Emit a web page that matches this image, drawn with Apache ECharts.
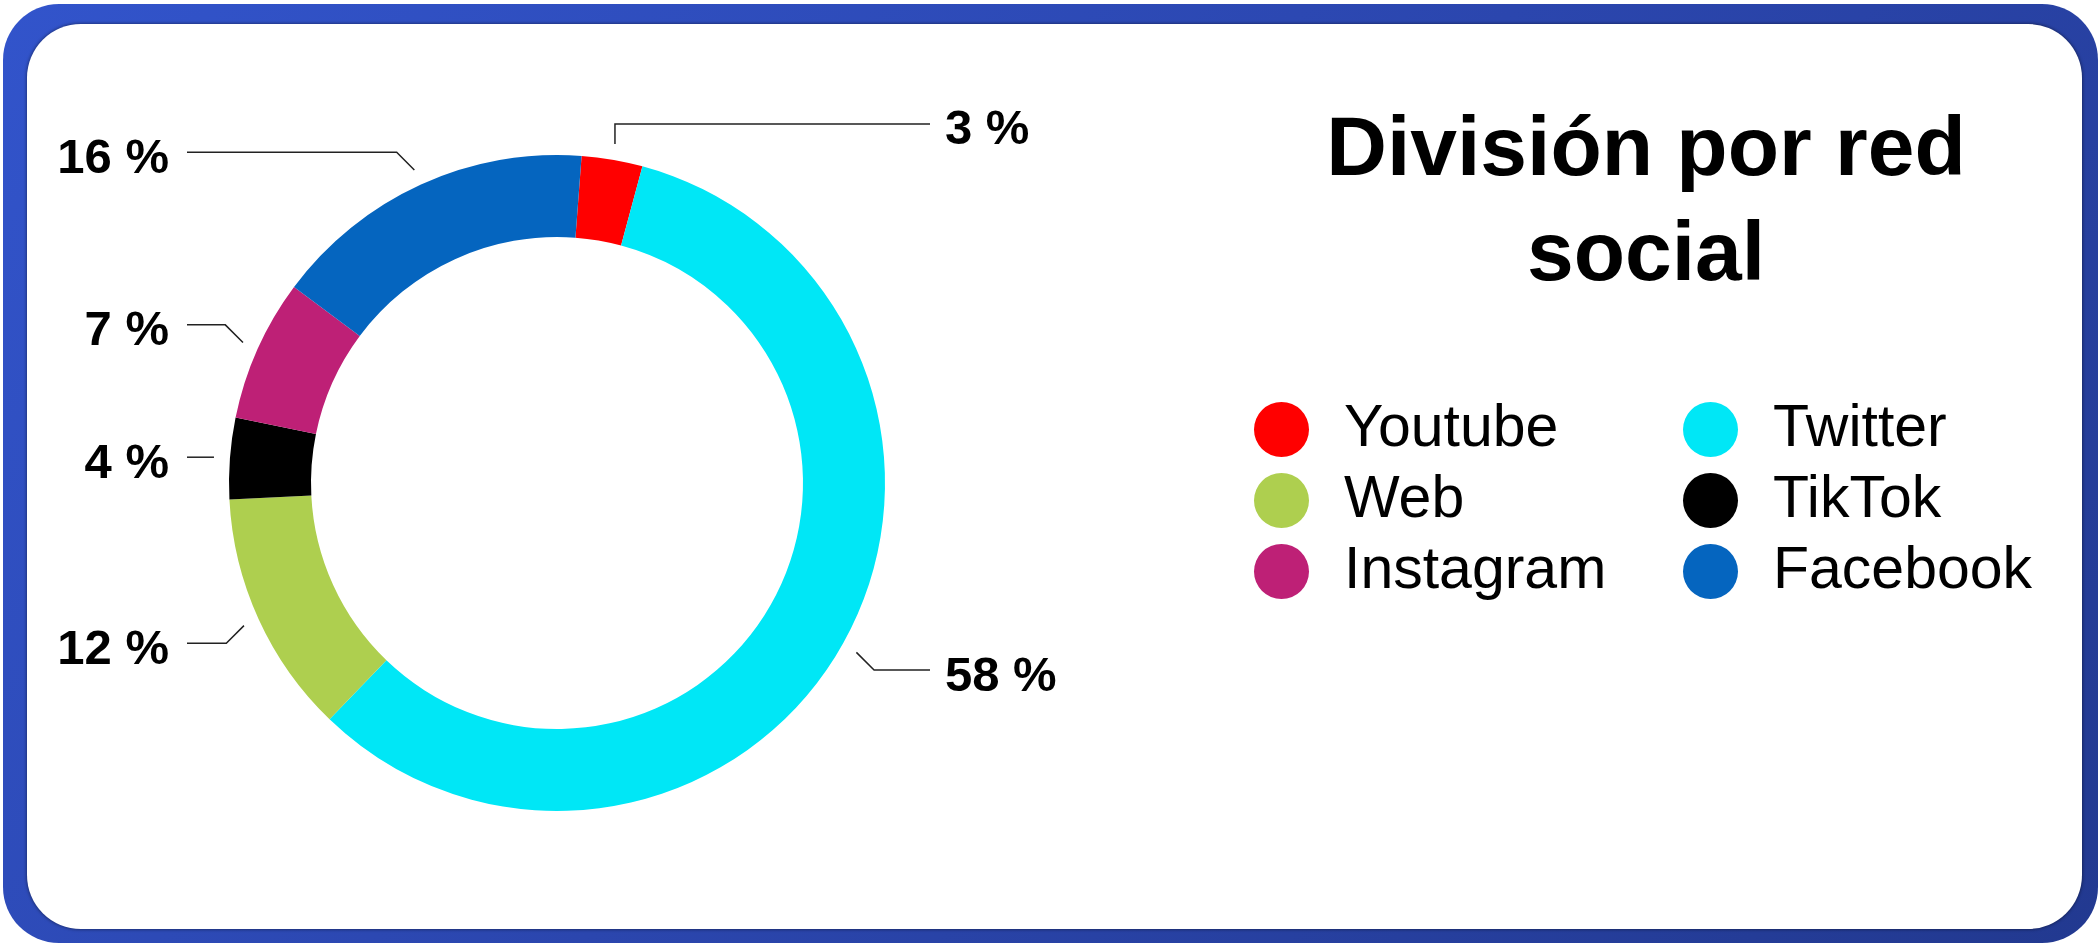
<!DOCTYPE html>
<html>
<head>
<meta charset="utf-8">
<script src="https://cdn.jsdelivr.net/npm/echarts@6/dist/echarts.min.js"></script>
<style>
    html, body { margin: 0; padding: 0; background: #fff; }
    #frame {
        position: absolute; left: 3px; top: 4px; width: 2095px; height: 939px;
        border-radius: 56px;
        background: linear-gradient(135deg, #3254cb 0%, #2b46ae 50%, #223990 100%);
    }
    #panel {
        position: absolute; left: 24px; top: 20px; width: 2055px; height: 905px;
        border-radius: 54px; background: #fff;
        box-shadow: 0 0 3px 1px rgba(0, 0, 0, 0.35);
    }
    #chart-1 { position: absolute; left: 0; top: 0; width: 2100px; height: 944px; }
</style>
</head>
<body>
<div id="frame"><div id="panel"></div></div>
<div id="chart-1"></div>
<script>
// datos del gráfico
const redes = ['Youtube', 'Twitter', 'Web', 'TikTok', 'Instagram', 'Facebook']
const porcentajes = [3, 58, 12, 4, 7, 16]
const leyendaIzq = ['Youtube', 'Web', 'Instagram']
const leyendaDer = ['Twitter', 'TikTok', 'Facebook']

const colores = ['#ff0000', '#00e7f6', '#aecf4f', '#000000', '#be2076', '#0565bf']
const centro = [557, 483]
const font = "'Liberation Sans', Arial, Helvetica, sans-serif"

const myChart = echarts.init(document.getElementById('chart-1'))

// leader lines like the original: gap from the ring, first segment snapped
// to 45 degree steps, then horizontal to a common column
const labelLayout = function (params) {
    const pts = params.labelLinePoints
    if (!pts) return {}
    const isLeft = pts[2][0] < pts[1][0]
    const dx = pts[1][0] - pts[0][0]
    const dy = pts[1][1] - pts[0][1]
    const len = Math.sqrt(dx * dx + dy * dy) || 1
    const gap = 16
    const start = [pts[0][0] + dx / len * gap, pts[0][1] + dy / len * gap]
    const snap = Math.round(Math.atan2(dy, dx) / (Math.PI / 4)) * (Math.PI / 4)
    const step = Math.abs(Math.cos(snap)) > 0.9 ? 0 : (Math.abs(Math.sin(snap)) > 0.9 ? 20 : 25)
    const elbow = [start[0] + Math.cos(snap) * step, start[1] + Math.sin(snap) * step]
    const endX = isLeft ? centro[0] - 370 : centro[0] + 373
    const y = elbow[1]
    return {
        x: isLeft ? endX - 18 : endX + 15,
        y: y + 7,
        align: isLeft ? 'right' : 'left',
        verticalAlign: 'middle',
        labelLinePoints: [start, elbow, [endX, y]]
    }
}

const legendBase = {
    orient: 'vertical',
    icon: 'circle',
    itemWidth: 55,
    itemHeight: 55,
    itemGap: 12,
    selectedMode: false,
    top: 395,
    textStyle: {
        fontFamily: font,
        fontSize: 59,
        color: '#000',
        lineHeight: 55,
        padding: [0, 0, 0, 30]
    }
}

const option = {
    animation: false,
    color: colores,
    title: {
        text: 'División por red\nsocial',
        left: 1641,
        top: 94,
        textAlign: 'center',
        textStyle: {
            fontFamily: font,
            fontSize: 84,
            fontWeight: 'bold',
            lineHeight: 105,
            color: '#000'
        }
    },
    legend: [
        Object.assign({}, legendBase, { left: 1249, data: leyendaIzq }),
        Object.assign({}, legendBase, { left: 1678, data: leyendaDer })
    ],
    series: [
        {
            type: 'pie',
            center: centro,
            radius: [246, 328],
            startAngle: 85.7,
            avoidLabelOverlap: false,
            emphasis: { disabled: true },
            label: {
                show: true,
                position: 'outside',
                formatter: '{c} %',
                fontFamily: font,
                fontSize: 49,
                fontWeight: 'bold',
                color: '#000'
            },
            labelLine: {
                show: true,
                length: 40,
                length2: 20,
                lineStyle: { color: '#222', width: 1.5 }
            },
            labelLayout: labelLayout,
            data: redes.map((name, i) => ({ name: name, value: porcentajes[i] }))
        }
    ]
}

myChart.setOption(option)
</script>
</body>
</html>
